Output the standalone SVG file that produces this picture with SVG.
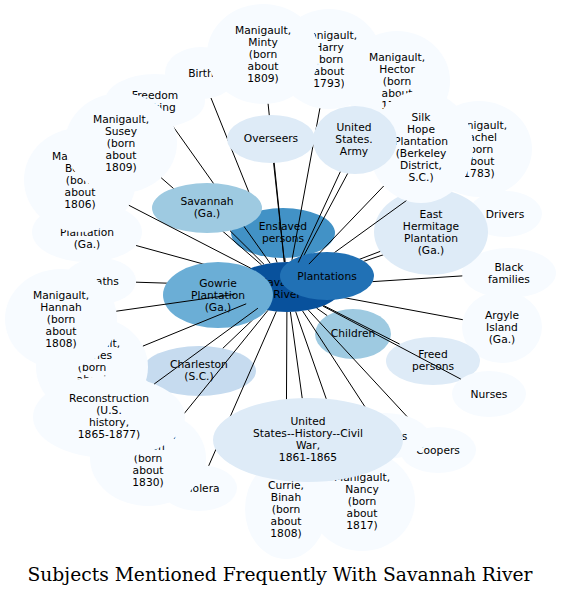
<svg xmlns="http://www.w3.org/2000/svg" width="561" height="596" viewBox="0 0 561 596">
<style>
.f1{fill:#f7fbff}.f2{fill:#deebf7}.f3{fill:#c6dbef}.f4{fill:#9ecae1}.f5{fill:#6baed6}.f6{fill:#4292c6}.f7{fill:#2171b5}.f8{fill:#08519c}
.t{font-family:"DejaVu Sans","Liberation Sans",sans-serif;font-size:10.7px;text-anchor:middle;fill:#000}
.ttl{font-family:"DejaVu Serif","Liberation Serif",serif;font-size:18.7px;text-anchor:middle;fill:#000}
#connectors line{stroke:#000;stroke-width:1;fill:none}
</style>
<defs>
<mask id="m-plant" maskUnits="userSpaceOnUse" x="0" y="0" width="561" height="596"><rect width="561" height="596" fill="#fff"/><ellipse cx="327" cy="276" rx="47" ry="24" fill="#000"/></mask>
<mask id="m-birth" maskUnits="userSpaceOnUse" x="0" y="0" width="561" height="596"><rect width="561" height="596" fill="#fff"/><ellipse cx="283" cy="233" rx="52" ry="25" fill="#000"/><ellipse cx="207" cy="208" rx="55" ry="25" fill="#000"/><ellipse cx="271" cy="139" rx="44" ry="24" fill="#000"/></mask>
<mask id="m-gowrie" maskUnits="userSpaceOnUse" x="0" y="0" width="561" height="596"><rect width="561" height="596" fill="#fff"/><ellipse cx="218" cy="295" rx="55" ry="33" fill="#000"/></mask>
<mask id="m-civil" maskUnits="userSpaceOnUse" x="0" y="0" width="561" height="596"><rect width="561" height="596" fill="#fff"/><ellipse cx="308" cy="440" rx="95" ry="42" fill="#000"/></mask>
<mask id="m-lab" maskUnits="userSpaceOnUse" x="0" y="0" width="561" height="596"><rect width="561" height="596" fill="#fff"/><ellipse cx="384" cy="436" rx="45" ry="23" fill="#000"/></mask>
<mask id="m-drivers" maskUnits="userSpaceOnUse" x="0" y="0" width="561" height="596"><rect width="561" height="596" fill="#fff"/><ellipse cx="431" cy="232" rx="57" ry="43" fill="#000"/><ellipse cx="327" cy="276" rx="47" ry="24" fill="#000"/></mask>
<mask id="m-freedom" maskUnits="userSpaceOnUse" x="0" y="0" width="561" height="596"><rect width="561" height="596" fill="#fff"/><ellipse cx="207" cy="208" rx="55" ry="25" fill="#000"/><ellipse cx="121" cy="143" rx="56" ry="50" fill="#000"/></mask>
<mask id="m-harry" maskUnits="userSpaceOnUse" x="0" y="0" width="561" height="596"><rect width="561" height="596" fill="#fff"/><ellipse cx="271" cy="139" rx="44" ry="24" fill="#000"/><ellipse cx="355" cy="140" rx="42" ry="34" fill="#000"/><ellipse cx="327" cy="276" rx="47" ry="24" fill="#000"/></mask>
<mask id="m-hector" maskUnits="userSpaceOnUse" x="0" y="0" width="561" height="596"><rect width="561" height="596" fill="#fff"/><ellipse cx="327" cy="276" rx="47" ry="24" fill="#000"/><ellipse cx="421" cy="147" rx="52" ry="56" fill="#000"/><ellipse cx="355" cy="140" rx="42" ry="34" fill="#000"/></mask>
<mask id="m-minty" maskUnits="userSpaceOnUse" x="0" y="0" width="561" height="596"><rect width="561" height="596" fill="#fff"/><ellipse cx="271" cy="139" rx="44" ry="24" fill="#000"/></mask>
<mask id="m-rachel" maskUnits="userSpaceOnUse" x="0" y="0" width="561" height="596"><rect width="561" height="596" fill="#fff"/><ellipse cx="327" cy="276" rx="47" ry="24" fill="#000"/><ellipse cx="421" cy="147" rx="52" ry="56" fill="#000"/></mask>
<mask id="m-simon" maskUnits="userSpaceOnUse" x="0" y="0" width="561" height="596"><rect width="561" height="596" fill="#fff"/><ellipse cx="109" cy="417" rx="76" ry="41" fill="#000"/></mask>
<mask id="m-susey" maskUnits="userSpaceOnUse" x="0" y="0" width="561" height="596"><rect width="561" height="596" fill="#fff"/><ellipse cx="207" cy="208" rx="55" ry="25" fill="#000"/></mask>
</defs>
<rect width="561" height="596" fill="#fff"/>
<g id="nodes">
<g id="savannah-river"><ellipse class="f8" cx="287" cy="287" rx="55" ry="25"/><text class="t"><tspan x="287" y="285.8">Savannah</tspan><tspan x="287" y="297.8">River</tspan></text></g>
<g id="argyle-island"><ellipse class="f1" cx="502" cy="327" rx="40" ry="36"/><text class="t"><tspan x="502" y="318.8">Argyle</tspan><tspan x="502" y="330.8">Island</tspan><tspan x="502" y="342.8">(Ga.)</tspan></text></g>
<g id="birth"><ellipse class="f1" cx="201" cy="73" rx="36" ry="26"/><text class="t" x="201" y="76.8">Birth</text></g>
<g id="black-families"><ellipse class="f1" cx="509" cy="273" rx="47" ry="25"/><text class="t"><tspan x="509" y="270.8">Black</tspan><tspan x="509" y="282.8">families</tspan></text></g>
<g id="charleston"><ellipse class="f3" cx="199" cy="371" rx="57" ry="25"/><text class="t"><tspan x="199" y="367.8">Charleston</tspan><tspan x="199" y="379.8">(S.C.)</tspan></text></g>
<g id="children"><ellipse class="f4" cx="353" cy="334" rx="38" ry="25"/><text class="t" x="353" y="336.8">Children</text></g>
<g id="cholera"><ellipse class="f1" cx="199" cy="488" rx="38" ry="23"/><text class="t" x="199" y="491.8">Cholera</text></g>
<g id="coopers"><ellipse class="f1" cx="438" cy="450" rx="38" ry="23"/><text class="t" x="438" y="453.8">Coopers</text></g>
<g id="currie-binah"><ellipse class="f1" cx="286" cy="509" rx="41" ry="50"/><text class="t"><tspan x="286" y="488.8">Currie,</tspan><tspan x="286" y="500.8">Binah</tspan><tspan x="286" y="512.8">(born</tspan><tspan x="286" y="524.8">about</tspan><tspan x="286" y="536.8">1808)</tspan></text></g>
<g id="deaths"><ellipse class="f1" cx="100" cy="281" rx="36" ry="23"/><text class="t" x="100" y="284.8">Deaths</text></g>
<g id="plantation-ga"><ellipse class="f1" cx="87" cy="232" rx="55" ry="30"/><text class="t"><tspan x="87" y="235.8">Plantation</tspan><tspan x="87" y="247.8">(Ga.)</tspan></text></g>
<g id="drivers"><ellipse class="f1" cx="505" cy="214" rx="37" ry="23"/><text class="t" x="505" y="217.8">Drivers</text></g>
<g id="east-hermitage"><ellipse class="f2" cx="431" cy="232" rx="57" ry="43"/><text class="t"><tspan x="431" y="217.8">East</tspan><tspan x="431" y="229.8">Hermitage</tspan><tspan x="431" y="241.8">Plantation</tspan><tspan x="431" y="253.8">(Ga.)</tspan></text></g>
<g id="enslaved-persons"><ellipse class="f6" cx="283" cy="233" rx="52" ry="25"/><text class="t"><tspan x="283" y="230.3">Enslaved</tspan><tspan x="283" y="242.3">persons</tspan></text></g>
<g id="freed-persons"><ellipse class="f2" cx="433" cy="361" rx="47" ry="24"/><text class="t"><tspan x="433" y="357.8">Freed</tspan><tspan x="433" y="369.8">persons</tspan></text></g>
<g id="freedom-seeking"><ellipse class="f1" cx="155" cy="101" rx="50" ry="27"/><text class="t"><tspan x="155" y="98.8">Freedom</tspan><tspan x="155" y="110.8">seeking</tspan></text></g>
<g id="gowrie"><ellipse class="f5" cx="218" cy="295" rx="55" ry="33"/><text class="t"><tspan x="218" y="286.8">Gowrie</tspan><tspan x="218" y="298.8">Plantation</tspan><tspan x="218" y="310.8">(Ga.)</tspan></text></g>
<g id="laborers"><ellipse class="f1" cx="384" cy="436" rx="45" ry="23"/><text class="t" x="384" y="439.8">Laborers</text></g>
<g id="manigault-betsy"><ellipse class="f1" cx="80" cy="180" rx="56" ry="52"/><text class="t"><tspan x="80" y="159.8">Manigault,</tspan><tspan x="80" y="171.8">Betsy</tspan><tspan x="80" y="183.8">(born</tspan><tspan x="80" y="195.8">about</tspan><tspan x="80" y="207.8">1806)</tspan></text></g>
<g id="manigault-charles"><ellipse class="f1" cx="92" cy="367" rx="56" ry="50"/><text class="t"><tspan x="92" y="346.8">Manigault,</tspan><tspan x="92" y="358.8">Charles</tspan><tspan x="92" y="370.8">(born</tspan><tspan x="92" y="382.8">about</tspan></text></g>
<g id="manigault-hannah"><ellipse class="f1" cx="61" cy="319" rx="56" ry="50"/><text class="t"><tspan x="61" y="298.8">Manigault,</tspan><tspan x="61" y="310.8">Hannah</tspan><tspan x="61" y="322.8">(born</tspan><tspan x="61" y="334.8">about</tspan><tspan x="61" y="346.8">1808)</tspan></text></g>
<g id="manigault-harry"><ellipse class="f1" cx="329" cy="59" rx="53" ry="50"/><text class="t"><tspan x="329" y="38.8">Manigault,</tspan><tspan x="329" y="50.8">Harry</tspan><tspan x="329" y="62.8">(born</tspan><tspan x="329" y="74.8">about</tspan><tspan x="329" y="86.8">1793)</tspan></text></g>
<g id="manigault-hector"><ellipse class="f1" cx="397" cy="81" rx="53" ry="50"/><text class="t"><tspan x="397" y="60.8">Manigault,</tspan><tspan x="397" y="72.8">Hector</tspan><tspan x="397" y="84.8">(born</tspan><tspan x="397" y="96.8">about</tspan><tspan x="397" y="108.8">1790)</tspan></text></g>
<g id="manigault-minty"><ellipse class="f1" cx="263" cy="54" rx="56" ry="50"/><text class="t"><tspan x="263" y="33.8">Manigault,</tspan><tspan x="263" y="45.8">Minty</tspan><tspan x="263" y="57.8">(born</tspan><tspan x="263" y="69.8">about</tspan><tspan x="263" y="81.8">1809)</tspan></text></g>
<g id="manigault-nancy"><ellipse class="f1" cx="362" cy="501" rx="53" ry="50"/><text class="t"><tspan x="362" y="480.8">Manigault,</tspan><tspan x="362" y="492.8">Nancy</tspan><tspan x="362" y="504.8">(born</tspan><tspan x="362" y="516.8">about</tspan><tspan x="362" y="528.8">1817)</tspan></text></g>
<g id="manigault-rachel"><ellipse class="f1" cx="479" cy="149" rx="53" ry="48"/><text class="t"><tspan x="479" y="128.8">Manigault,</tspan><tspan x="479" y="140.8">Rachel</tspan><tspan x="479" y="152.8">(born</tspan><tspan x="479" y="164.8">about</tspan><tspan x="479" y="176.8">1783)</tspan></text></g>
<g id="manigault-1830"><ellipse class="f1" cx="148" cy="458" rx="58" ry="48"/><text class="t"><tspan x="148" y="437.8">Manigault,</tspan><tspan x="148" y="449.8">Simon</tspan><tspan x="148" y="461.8">(born</tspan><tspan x="148" y="473.8">about</tspan><tspan x="148" y="485.8">1830)</tspan></text></g>
<g id="manigault-susey"><ellipse class="f1" cx="121" cy="143" rx="56" ry="50"/><text class="t"><tspan x="121" y="122.8">Manigault,</tspan><tspan x="121" y="134.8">Susey</tspan><tspan x="121" y="146.8">(born</tspan><tspan x="121" y="158.8">about</tspan><tspan x="121" y="170.8">1809)</tspan></text></g>
<g id="nurses"><ellipse class="f1" cx="489" cy="394" rx="37" ry="23"/><text class="t" x="489" y="397.8">Nurses</text></g>
<g id="overseers"><ellipse class="f2" cx="271" cy="139" rx="44" ry="24"/><text class="t" x="271" y="141.8">Overseers</text></g>
<g id="plantations"><ellipse class="f7" cx="327" cy="276" rx="47" ry="24"/><text class="t" x="327" y="279.8">Plantations</text></g>
<g id="reconstruction"><ellipse class="f1" cx="109" cy="417" rx="76" ry="41"/><text class="t"><tspan x="109" y="401.8">Reconstruction</tspan><tspan x="109" y="413.8">(U.S.</tspan><tspan x="109" y="425.8">history,</tspan><tspan x="109" y="437.8">1865-1877)</tspan></text></g>
<g id="savannah-ga"><ellipse class="f4" cx="207" cy="208" rx="55" ry="25"/><text class="t"><tspan x="207" y="205.3">Savannah</tspan><tspan x="207" y="217.3">(Ga.)</tspan></text></g>
<g id="silk-hope"><ellipse class="f1" cx="421" cy="147" rx="52" ry="56"/><text class="t"><tspan x="421" y="120.8">Silk</tspan><tspan x="421" y="132.8">Hope</tspan><tspan x="421" y="144.8">Plantation</tspan><tspan x="421" y="156.8">(Berkeley</tspan><tspan x="421" y="168.8">District,</tspan><tspan x="421" y="180.8">S.C.)</tspan></text></g>
<g id="civil-war"><ellipse class="f2" cx="308" cy="440" rx="95" ry="42"/><text class="t"><tspan x="308" y="424.8">United</tspan><tspan x="308" y="436.8">States--History--Civil</tspan><tspan x="308" y="448.8">War,</tspan><tspan x="308" y="460.8">1861-1865</tspan></text></g>
<g id="us-army"><ellipse class="f2" cx="355" cy="140" rx="42" ry="34"/><text class="t"><tspan x="354" y="130.8">United</tspan><tspan x="354" y="142.8">States.</tspan><tspan x="354" y="154.8">Army</tspan></text></g>
</g>
<g id="connectors">
<line x1="337.9" y1="296.5" x2="462.8" y2="319.7" mask="url(#m-plant)"/>
<line x1="277.1" y1="262.4" x2="211.0" y2="98.0" mask="url(#m-birth)"/>
<line x1="341.5" y1="283.6" x2="462.3" y2="275.9" mask="url(#m-plant)"/>
<line x1="263.4" y1="309.6" x2="222.8" y2="348.3" mask="url(#m-gowrie)"/>
<line x1="316.6" y1="308.1" x2="327.2" y2="315.6"/>
<line x1="276.3" y1="311.5" x2="208.7" y2="465.8" mask="url(#m-civil)"/>
<line x1="308.3" y1="310.0" x2="419.4" y2="429.9" mask="url(#m-lab)"/>
<line x1="286.9" y1="312.0" x2="286.2" y2="459.0" mask="url(#m-civil)"/>
<line x1="232.1" y1="285.2" x2="136.0" y2="282.2" mask="url(#m-gowrie)"/>
<line x1="239.9" y1="274.1" x2="136.1" y2="245.5" mask="url(#m-gowrie)"/>
<line x1="331.3" y1="272.2" x2="472.4" y2="224.9" mask="url(#m-drivers)"/>
<line x1="329.1" y1="270.9" x2="380.2" y2="251.4" mask="url(#m-plant)"/>
<line x1="285.1" y1="262.0" x2="284.9" y2="258.0"/>
<line x1="323.7" y1="305.6" x2="399.6" y2="344.1"/>
<line x1="270.1" y1="263.2" x2="172.9" y2="126.2" mask="url(#m-freedom)"/>
<line x1="302.6" y1="311.0" x2="369.8" y2="414.2" mask="url(#m-civil)"/>
<line x1="250.7" y1="268.2" x2="128.9" y2="205.3"/>
<line x1="246.2" y1="303.8" x2="142.9" y2="346.1"/>
<line x1="234.5" y1="294.4" x2="116.3" y2="311.2"/>
<line x1="291.6" y1="262.1" x2="319.9" y2="108.3" mask="url(#m-harry)"/>
<line x1="300.0" y1="262.7" x2="373.2" y2="125.7" mask="url(#m-hector)"/>
<line x1="284.4" y1="262.0" x2="268.1" y2="103.8" mask="url(#m-minty)"/>
<line x1="295.7" y1="311.7" x2="345.4" y2="453.5" mask="url(#m-civil)"/>
<line x1="316.2" y1="265.8" x2="437.6" y2="178.0" mask="url(#m-rachel)"/>
<line x1="267.9" y1="310.4" x2="180.4" y2="418.2" mask="url(#m-simon)"/>
<line x1="261.5" y1="264.9" x2="161.2" y2="177.8" mask="url(#m-susey)"/>
<line x1="322.8" y1="306.0" x2="460.8" y2="379.1"/>
<line x1="284.3" y1="262.0" x2="273.6" y2="163.0"/>
<line x1="257.9" y1="308.2" x2="154.2" y2="384.0"/>
<line x1="264.0" y1="264.3" x2="230.0" y2="230.7"/>
<line x1="308.9" y1="264.1" x2="383.7" y2="186.0"/>
<line x1="290.4" y1="312.0" x2="302.2" y2="398.1"/>
<line x1="298.3" y1="262.5" x2="340.3" y2="171.8"/>
</g>
<g id="title"><text class="ttl" x="280" y="581">Subjects Mentioned Frequently With Savannah River</text></g>
</svg>
